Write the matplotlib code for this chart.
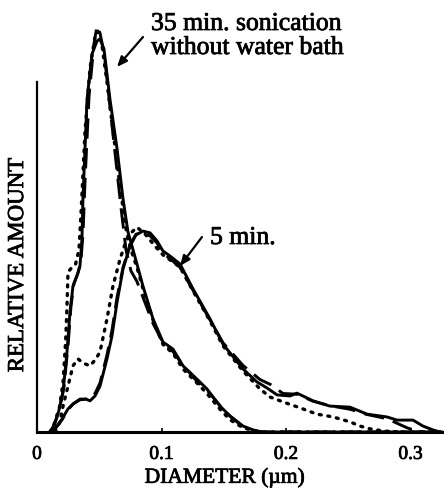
import matplotlib
matplotlib.use("Agg")
import matplotlib.pyplot as plt
import matplotlib.patheffects as pe

# ---- data (diameter in µm, relative amount in arbitrary units) ----
d35_solid = [0.0104, 0.0129, 0.0169, 0.0209, 0.0241, 0.0265, 0.0289, 0.0321, 0.0345, 0.0361, 0.0369, 0.0402,
             0.0442, 0.0482, 0.0506, 0.0538, 0.0586, 0.0643, 0.0691, 0.0731, 0.0763, 0.0803, 0.0851, 0.0932,
             0.1012, 0.1092, 0.1173, 0.1285, 0.1365, 0.1470, 0.1550, 0.1655, 0.1735, 0.1807, 0.325]
y35_solid = [0, 0.9, 5.1, 11.4, 22.9, 34.3, 41.7, 44.6, 47.4, 55.1, 66.6, 95.1,
             108, 111.7, 112.3, 109.4, 95.1, 80.9, 66.6, 57.1, 53.1, 48, 41.7, 32.3,
             25.7, 23.7, 18.9, 15.1, 12.3, 7.4, 4.6, 1.7, 0.6, 0, 0]

d35_dash = [0.0104, 0.0137, 0.018, 0.0217, 0.025, 0.0273, 0.0297, 0.033, 0.0353, 0.037, 0.0386, 0.0418,
            0.0458, 0.0482, 0.0506, 0.054, 0.0586, 0.0635, 0.0675, 0.0715, 0.0755, 0.0803, 0.0851, 0.0932,
            0.1012, 0.1092, 0.1173, 0.1285, 0.1365, 0.147, 0.155, 0.1655, 0.175, 0.182, 0.325]
y35_dash = [0, 2, 6.5, 13, 25, 36, 42.5, 45.5, 49, 57, 72, 96,
            111, 116, 114, 108, 93, 77, 64, 52, 46, 43, 38.5, 31,
            25.5, 23, 19, 14.5, 12, 7.5, 4.5, 1.5, 0.3, 0, 0]

d35_dot = [0.0104, 0.014, 0.018, 0.0209, 0.023, 0.0241, 0.0249, 0.028, 0.031, 0.0337, 0.0353, 0.0386,
           0.0426, 0.0466, 0.049, 0.052, 0.0562, 0.0618, 0.0667, 0.0715, 0.0755, 0.0803, 0.0851, 0.0932,
           0.1012, 0.1092, 0.1173, 0.1285, 0.1365, 0.147, 0.155, 0.1655, 0.175, 0.18, 0.325]
y35_dot = [0, 2.5, 7, 14, 26, 36, 45.7, 47, 48, 52, 62, 86,
           104, 113, 114.5, 111, 100, 84, 70, 58, 52, 47, 41, 32,
           25, 22.5, 18, 14, 11, 6.5, 3.5, 1.2, 0.3, 0, 0]

d5_solid = [0.012, 0.0145, 0.0201, 0.0249, 0.0289, 0.0345, 0.0394, 0.0426, 0.0466, 0.0506, 0.0562, 0.0602,
            0.0643, 0.0691, 0.0747, 0.0795, 0.0851, 0.0908, 0.0964, 0.1012, 0.1068, 0.1149, 0.1253, 0.139,
            0.1494, 0.1655, 0.1767, 0.1847, 0.1928, 0.2032, 0.2088, 0.2153, 0.2217, 0.2353, 0.2514, 0.2651,
            0.2811, 0.2892, 0.302, 0.31, 0.318, 0.3237]
y5_solid = [0, 0.9, 3.7, 6.6, 8, 9.4, 9.4, 8.9, 10.3, 13.1, 20.9, 27.4,
            37.1, 46.6, 53.1, 56.3, 57.4, 56.9, 54.6, 51.7, 50.3, 48, 40.9, 32.3,
            25.1, 18, 14.3, 12.6, 10.6, 10.3, 11.1, 10, 8.9, 7.4, 7.1, 5.1,
            4.3, 3.4, 3.4, 1.7, 0.6, 0]

d5_dash = [0.012, 0.0145, 0.0201, 0.0249, 0.0289, 0.0345, 0.0394, 0.0426, 0.0466, 0.0506, 0.0562, 0.0602,
           0.0643, 0.0691, 0.0747, 0.0795, 0.0851, 0.0908, 0.0964, 0.1012, 0.107, 0.1149, 0.1253, 0.139,
           0.1494, 0.1655, 0.1791, 0.1879, 0.1976, 0.2088, 0.2217, 0.2353, 0.2514, 0.2651, 0.2811, 0.2892,
           0.2972, 0.305, 0.312]
y5_dash = [0, 0.9, 3.5, 6.3, 8, 9.2, 9.4, 9.4, 11, 14, 22, 29,
           38.5, 47, 53.5, 56.5, 57, 56, 54, 51, 49.5, 47, 40.5, 32,
           25.5, 19, 15, 13.5, 11, 10.8, 8.8, 7.5, 6.5, 5, 3.8, 2.5,
           1.2, 0.3, 0]

d5_dot = [0.0145, 0.0185, 0.0209, 0.0249, 0.0289, 0.0329, 0.0369, 0.0426, 0.0474, 0.0506, 0.0562, 0.061,
          0.0667, 0.0707, 0.0747, 0.0803, 0.0867, 0.0948, 0.1012, 0.1149, 0.1253, 0.139, 0.1494, 0.1655,
          0.1791, 0.1871, 0.1976, 0.2112, 0.2249, 0.2378, 0.2514, 0.2594, 0.2675, 0.2779, 0.2916]
y5_dot = [0, 2.9, 7.4, 13.1, 18.9, 20.9, 19.7, 18.9, 20.9, 22.9, 32.3, 41.7,
          49.4, 53.7, 56.6, 58.5, 56.6, 53.1, 50.6, 47.1, 40.3, 31.7, 24.6, 17.4,
          12.3, 10, 8.6, 6.9, 5.1, 4.3, 2.9, 1.7, 0.9, 0.3, 0]

xticks = [0, 0.1, 0.2, 0.3]
xtick_labels = ["0", "0.1", "0.2", "0.3"]

# ---- figure ----
plt.rcParams['font.family'] = 'Liberation Serif'
W, H = 444, 489
fig = plt.figure(figsize=(W / 100, H / 100), dpi=100)

heavy = [pe.withStroke(linewidth=0.55, foreground='black')]

ax = fig.add_axes([37 / W, (H - 433) / H, 407 / W, 350 / H])
ax.set_xlim(0, 407 / 1245)
ax.set_ylim(0, 100)

lw = 2.1
dash_style = (0, (7, 3.2))
dot_style = (0, (0.6, 2.0))
ax.plot(d35_solid, y35_solid, color='black', lw=lw, ls='-', clip_on=False)
ax.plot(d35_dash, y35_dash, color='black', lw=lw, ls=dash_style, clip_on=False)
ax.plot(d35_dot, y35_dot, color='black', lw=2.4, ls=dot_style, dash_capstyle='round', clip_on=False)
ax.plot(d5_solid, y5_solid, color='black', lw=lw, ls='-', clip_on=False)
ax.plot(d5_dash, y5_dash, color='black', lw=lw, ls=dash_style, clip_on=False)
ax.plot(d5_dot, y5_dot, color='black', lw=2.4, ls=dot_style, dash_capstyle='round', clip_on=False)

for s in ['top', 'right']:
    ax.spines[s].set_visible(False)
ax.spines['left'].set_linewidth(1.6)
ax.spines['bottom'].set_linewidth(2.2)

ax.set_xticks(xticks)
ax.set_xticklabels(xtick_labels, fontsize=14, family='Liberation Serif')
for t in ax.get_xticklabels():
    t.set_path_effects(heavy)
ax.tick_params(axis='x', direction='in', length=3, width=1.2, pad=10)
ax.set_yticks([])
xl = ax.set_xlabel("DIAMETER (µm)", fontsize=15.5, family='Liberation Serif')
yl = ax.set_ylabel("RELATIVE AMOUNT", fontsize=16.5, family='Liberation Serif')
xl.set_path_effects(heavy)
yl.set_path_effects(heavy)
ax.xaxis.set_label_coords(0.461, -0.103)
ax.yaxis.set_label_coords(-0.022, 0.477)


def fx(px):
    return px / W


def fy(py):
    return 1 - py / H


txt_kw = dict(fontsize=18.5, family='Liberation Serif', ha='left', va='baseline', path_effects=heavy)
fig.text(fx(151), fy(31), "35 min. sonication", **txt_kw)
fig.text(fx(151), fy(55), "without water bath", **txt_kw)
fig.text(fx(210), fy(245), "5 min.", **txt_kw)

arrow_kw = dict(arrowstyle='-|>,head_length=0.6,head_width=0.25', color='black', lw=1.6, shrinkA=0, shrinkB=0)
ax.annotate("", xy=(fx(117), fy(68)), xytext=(fx(143), fy(38)),
            xycoords='figure fraction', textcoords='figure fraction', arrowprops=arrow_kw)
ax.annotate("", xy=(fx(180), fy(267)), xytext=(fx(202), fy(238)),
            xycoords='figure fraction', textcoords='figure fraction', arrowprops=arrow_kw)

fig.savefig("out.png", dpi=100)
